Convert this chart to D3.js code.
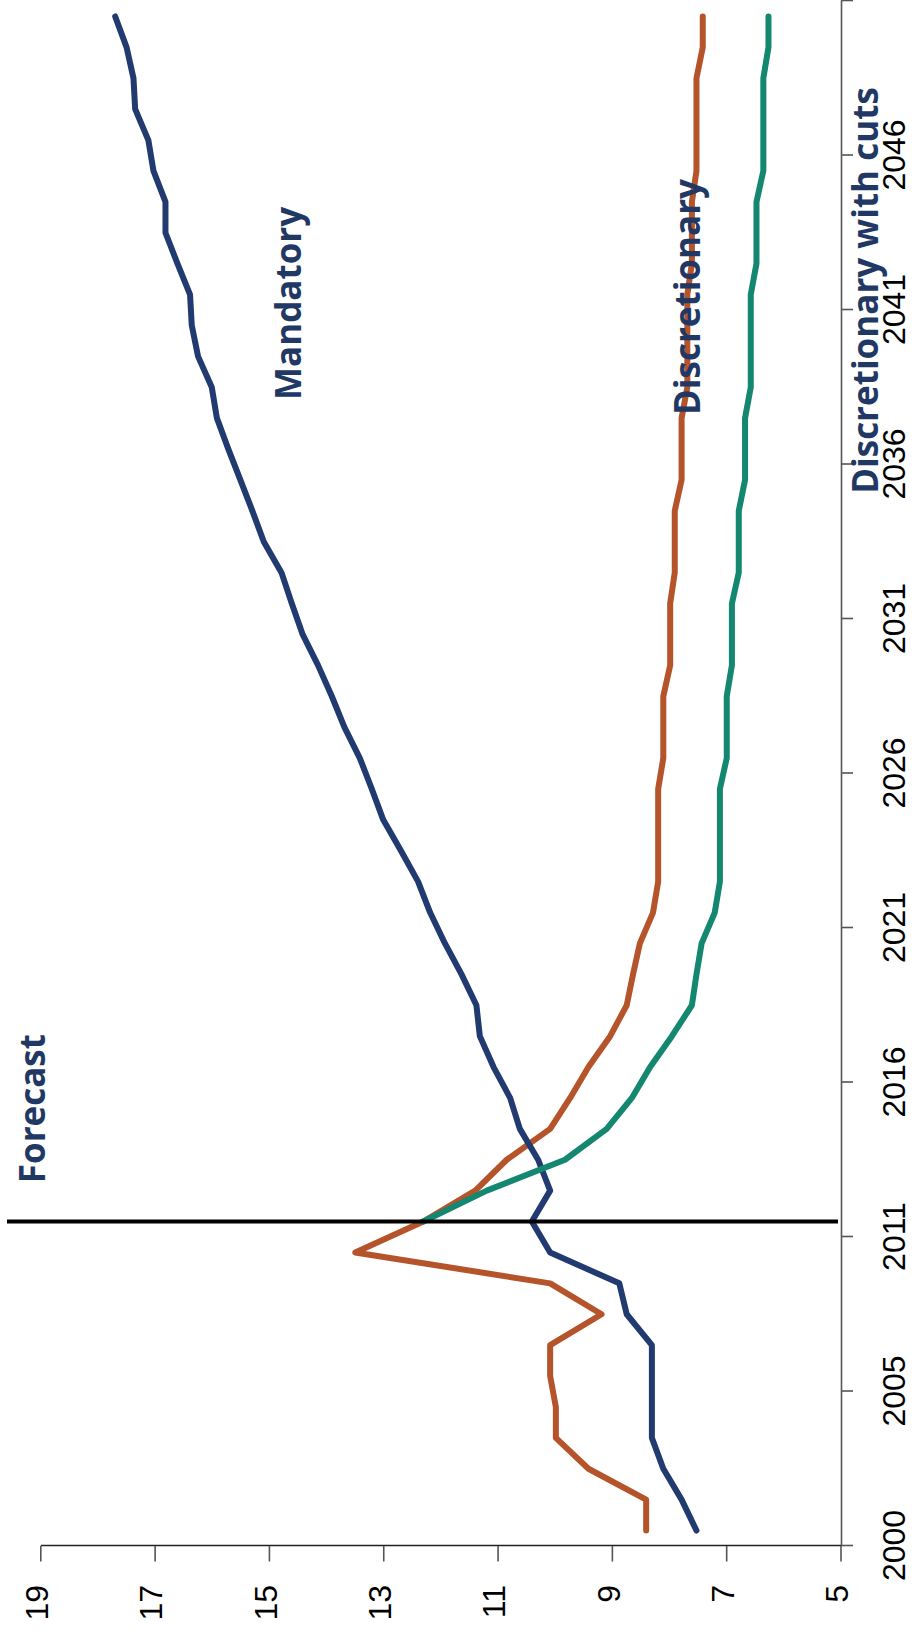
<!DOCTYPE html>
<html>
<head>
<meta charset="utf-8">
<script src="https://cdn.jsdelivr.net/npm/d3@7"></script>
<style>
  html, body { margin: 0; padding: 0; background: #fff; }
  svg { display: block; }
</style>
</head>
<body>
<script>
// Spending as a share of GDP, 2000–2049, with forecast from 2010
const years = [2000,2001,2002,2003,2004,2005,2006,2007,2008,2009,
               2010,2011,2012,2013,2014,2015,2016,2017,2018,2019,
               2020,2021,2022,2023,2024,2025,2026,2027,2028,2029,
               2030,2031,2032,2033,2034,2035,2036,2037,2038,2039,
               2040,2041,2042,2043,2044,2045,2046,2047,2048,2049];

const mandatory = [7.52,7.78,8.10,8.30,8.30,8.30,8.30,8.74,8.87,10.08,
                   10.40,10.08,10.29,10.61,10.78,11.07,11.31,11.37,11.63,11.92,
                   12.18,12.39,12.69,13.00,13.20,13.41,13.68,13.90,14.14,14.41,
                   14.60,14.78,15.09,15.29,15.50,15.71,15.91,16.00,16.24,16.35,
                   16.38,16.60,16.81,16.81,17.02,17.11,17.34,17.37,17.49,17.69];

const discretionary = [8.40,8.40,9.41,9.98,9.98,10.08,10.08,9.18,10.08,13.49,
                       12.30,11.39,10.84,10.08,9.73,9.41,9.03,8.74,8.63,8.51,
                       8.28,8.19,8.19,8.19,8.19,8.10,8.10,8.10,7.98,7.98,
                       7.98,7.90,7.90,7.90,7.78,7.78,7.78,7.68,7.68,7.68,
                       7.68,7.60,7.60,7.60,7.52,7.52,7.52,7.52,7.41,7.41];

const discretionaryCuts = [null,null,null,null,null,null,null,null,null,null,
                           12.30,11.19,9.82,9.09,8.65,8.33,7.95,7.60,7.52,7.43,
                           7.20,7.11,7.11,7.11,7.11,6.99,6.99,6.99,6.90,6.90,
                           6.90,6.78,6.78,6.78,6.67,6.67,6.67,6.57,6.57,6.57,
                           6.57,6.47,6.47,6.47,6.35,6.35,6.35,6.35,6.26,6.26];

const valueTicks = [5, 7, 9, 11, 13, 15, 17, 19];
const yearTickLabels = ["2000","2005","2011","2016","2021","2026","2031","2036","2041","2046",""];
const forecastYear = 2010;

const W = 913, H = 1637;
const svg = d3.select("body").append("svg")
  .attr("width", W).attr("height", H);

// The chart is laid out landscape and turned a quarter turn counter-clockwise.
const g = svg.append("g").attr("transform", `translate(0,${H}) rotate(-90)`);

const x = d3.scaleLinear().domain([years[0] - 0.5, years[years.length - 1] + 0.5]).range([91, 1636]);
const y = d3.scaleLinear().domain([5, 19]).range([840.5, 40.3]);

// Category-boundary ticks every five years
const yearTickPos = yearTickLabels.map((_, i) => years[0] - 0.5 + 5 * i);

const axisColor = "#555";
const tickFont = "'Liberation Sans', Arial, sans-serif";

const yAxis = g.append("g")
  .attr("transform", "translate(91,0)")
  .call(d3.axisLeft(y).tickValues(valueTicks).tickSize(15.5).tickSizeOuter(0).tickPadding(23.5));
yAxis.select(".domain").attr("stroke", "#222").attr("stroke-width", 1.6);
yAxis.selectAll(".tick line").attr("stroke", axisColor).attr("stroke-width", 1.6);
yAxis.selectAll(".tick text")
  .attr("font-family", tickFont).attr("font-size", 32).attr("fill", "#000").attr("dy", "0.23em");

const xAxis = g.append("g")
  .attr("transform", "translate(0,841)")
  .call(d3.axisBottom(x).tickValues(yearTickPos)
    .tickFormat((d, i) => yearTickLabels[i])
    .tickSize(12).tickSizeOuter(0).tickPadding(29));
xAxis.select(".domain").attr("stroke", axisColor).attr("stroke-width", 1.6);
xAxis.selectAll(".tick line").attr("stroke", axisColor).attr("stroke-width", 1.6);
xAxis.selectAll(".tick text")
  .attr("font-family", tickFont).attr("font-size", 32).attr("fill", "#000");
yAxis.attr("font-family", null); xAxis.attr("font-family", null);

const line = d3.line()
  .defined(d => d.v != null)
  .x(d => x(d.year))
  .y(d => y(d.v));

const series = [
  { name: "Discretionary", values: discretionary, color: "#b5532a" },
  { name: "Mandatory", values: mandatory, color: "#213a70" },
  { name: "Discretionary with cuts", values: discretionaryCuts, color: "#13876f" }
];

series.forEach(s => {
  g.append("path")
    .datum(years.map((yr, i) => ({ year: yr, v: s.values[i] })))
    .attr("fill", "none")
    .attr("stroke", s.color)
    .attr("stroke-width", 6)
    .attr("stroke-linejoin", "round")
    .attr("stroke-linecap", "round")
    .attr("d", line);
});

// Forecast divider
g.append("line")
  .attr("x1", x(forecastYear)).attr("x2", x(forecastYear))
  .attr("y1", 7).attr("y2", 838)
  .attr("stroke", "#000").attr("stroke-width", 4);

// Annotations
const labelFont = "'Open Sans', 'Noto Sans', sans-serif";
const annotations = [
  { text: "Forecast", year: 2011.24, value: 18.92 },
  { text: "Mandatory", year: 2036.59, value: 14.44 },
  { text: "Discretionary", year: 2036.1, value: 7.45 },
  { text: "Discretionary with cuts", year: 2033.55, value: 4.34 }
];
g.selectAll("text.annot").data(annotations).join("text")
  .attr("class", "annot")
  .attr("x", d => x(d.year))
  .attr("y", d => y(d.value))
  .attr("font-family", labelFont)
  .attr("font-weight", 700)
  .attr("font-size", 35)
  .attr("fill", "#1f3864")
  .text(d => d.text);
</script>
</body>
</html>
